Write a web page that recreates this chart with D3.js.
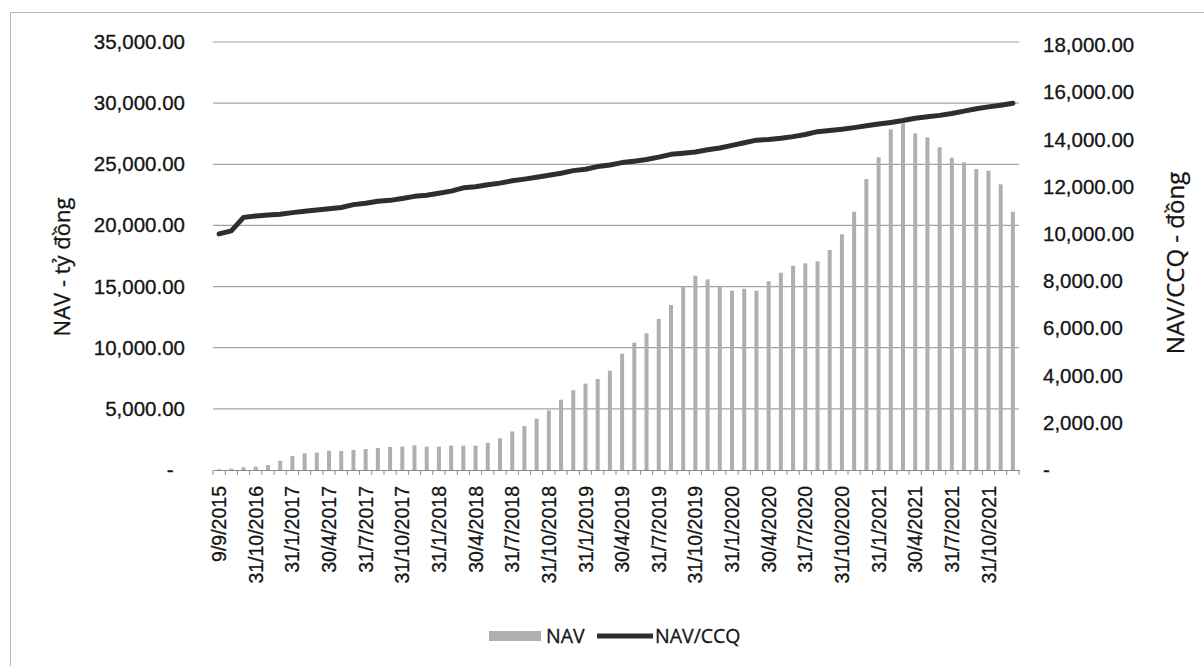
<!DOCTYPE html>
<html>
<head>
<meta charset="utf-8">
<script src="https://cdn.jsdelivr.net/npm/d3@7"></script>
<style>
  body { margin: 0; background: #fff; }
  svg { display: block; font-family: 'Open Sans', sans-serif; }
  svg text { fill: #141414; stroke: #141414; stroke-width: 0.3px; }
</style>
</head>
<body>
<svg id="chart"></svg>
<script>
// Month-end reporting dates (first point is fund launch)
const categories = [
  '9/9/2015', '31/8/2016', '30/9/2016',
  '31/10/2016', '30/11/2016', '31/12/2016',
  '31/1/2017', '28/2/2017', '31/3/2017', '30/4/2017', '31/5/2017', '30/6/2017',
  '31/7/2017', '31/8/2017', '30/9/2017', '31/10/2017', '30/11/2017', '31/12/2017',
  '31/1/2018', '28/2/2018', '31/3/2018', '30/4/2018', '31/5/2018', '30/6/2018',
  '31/7/2018', '31/8/2018', '30/9/2018', '31/10/2018', '30/11/2018', '31/12/2018',
  '31/1/2019', '28/2/2019', '31/3/2019', '30/4/2019', '31/5/2019', '30/6/2019',
  '31/7/2019', '31/8/2019', '30/9/2019', '31/10/2019', '30/11/2019', '31/12/2019',
  '31/1/2020', '29/2/2020', '31/3/2020', '30/4/2020', '31/5/2020', '30/6/2020',
  '31/7/2020', '31/8/2020', '30/9/2020', '31/10/2020', '30/11/2020', '31/12/2020',
  '31/1/2021', '28/2/2021', '31/3/2021', '30/4/2021', '31/5/2021', '30/6/2021',
  '31/7/2021', '31/8/2021', '30/9/2021', '31/10/2021', '30/11/2021', '31/12/2021'
];

// NAV - tỷ đồng (bars, left axis)
const navValues = [
  60, 110, 220,
  270, 410, 760,
  1140, 1360, 1420, 1580, 1550, 1640,
  1720, 1800, 1880, 1910, 2020, 1910,
  1910, 1990, 1990, 1990, 2230, 2590,
  3150, 3600, 4200, 4880, 5750, 6520,
  7060, 7440, 8120, 9510, 10410, 11180,
  12350, 13490, 14990, 15890, 15590, 15040,
  14660, 14820, 14660, 15430, 16130, 16700,
  16900, 17060, 17990, 19270, 21120, 23790,
  25570, 27860, 28350, 27530, 27200, 26390,
  25540, 25160, 24610, 24470, 23360, 21120
];

// NAV/CCQ - đồng (line, right axis)
const navPerUnit = [
  10000, 10130, 10700,
  10760, 10800, 10830,
  10900, 10960, 11010, 11060, 11120, 11240,
  11300, 11380, 11420, 11500, 11590, 11640,
  11720, 11810, 11950, 12000, 12080, 12150,
  12250, 12320, 12400, 12480, 12570, 12680,
  12740, 12850, 12920, 13020, 13080, 13150,
  13250, 13370, 13420, 13470, 13560, 13640,
  13750, 13860, 13970, 14000, 14050, 14120,
  14210, 14330, 14380, 14430, 14500, 14580,
  14650, 14720, 14800, 14900, 14960, 15020,
  15100, 15200, 15300, 15380, 15450, 15530
];

const leftTicks = [0, 5000, 10000, 15000, 20000, 25000, 30000, 35000];
const rightTicks = [0, 2000, 4000, 6000, 8000, 10000, 12000, 14000, 16000, 18000];
const seriesNames = ['NAV', 'NAV/CCQ'];
const axisTitles = ['NAV - tỷ đồng', 'NAV/CCQ - đồng'];

const width = 1204, height = 666;
const plot = {left: 213, right: 1019, top: 42, bottom: 470};

const svg = d3.select('#chart')
    .attr('width', width)
    .attr('height', height);

// Chart area border
svg.append('rect')
    .attr('x', 10.5).attr('y', 12.5)
    .attr('width', 1220).attr('height', 700)
    .attr('fill', 'none')
    .attr('stroke', '#b5b5b5');

const x = d3.scaleBand()
    .domain(categories)
    .range([plot.left, plot.right]);

const yLeft = d3.scaleLinear()
    .domain([0, 35000])
    .range([plot.bottom, plot.top]);

const yRight = d3.scaleLinear()
    .domain([0, 18000])
    .range([plot.bottom, 45]);

const fmt = v => v === 0 ? '-\u2007' : d3.format(',.2f')(v);

// Gridlines from the left axis
svg.append('g')
    .selectAll('line')
    .data(leftTicks.filter(d => d > 0))
    .join('line')
    .attr('x1', plot.left).attr('x2', plot.right)
    .attr('y1', d => yLeft(d)).attr('y2', d => yLeft(d))
    .attr('stroke', '#a3a3a3')
    .attr('stroke-width', 1.2);

// NAV bars
const barW = 4;
svg.append('g')
    .selectAll('rect')
    .data(categories)
    .join('rect')
    .attr('x', (d, i) => x(d) + x.bandwidth() / 2 - barW / 2)
    .attr('y', (d, i) => yLeft(navValues[i]))
    .attr('width', barW)
    .attr('height', (d, i) => plot.bottom - yLeft(navValues[i]))
    .attr('fill', '#afafaf');

// Left axis (labels only)
const leftAxis = svg.append('g')
    .attr('transform', `translate(${plot.left - 28},0)`)
    .call(d3.axisLeft(yLeft).tickValues(leftTicks).tickFormat(fmt).tickSize(0))
    .call(g => g.select('.domain').remove());
leftAxis.selectAll('text').attr('font-size', 20.5).attr('x', 0);

// Right axis (labels only)
const rightAxis = svg.append('g')
    .attr('transform', `translate(${plot.right + 24},0)`)
    .call(d3.axisRight(yRight).tickValues(rightTicks).tickFormat(v => v === 0 ? '-' : d3.format(',.2f')(v)).tickSize(0))
    .call(g => g.select('.domain').remove());
rightAxis.selectAll('text').attr('font-size', 20.5).attr('x', 0);

// Bottom axis: line, boundary ticks and every third date label
const xAxisG = svg.append('g')
    .attr('transform', `translate(0,${plot.bottom})`)
    .call(d3.axisBottom(x)
        .tickValues(categories.filter((d, i) => i % 3 === 0))
        .tickSize(0))
    .call(g => g.select('.domain').attr('stroke', '#8a8a8a').attr('stroke-width', 1.2));

xAxisG.selectAll('.tick text')
    .attr('font-size', 19.5)
    .attr('transform', 'rotate(-90)')
    .attr('text-anchor', 'end')
    .attr('x', -16)
    .attr('y', 0)
    .attr('dy', '0.36em');

xAxisG.append('g')
    .selectAll('line')
    .data(categories.concat(['end']))
    .join('line')
    .attr('x1', (d, i) => i < categories.length ? x(d) : plot.right)
    .attr('x2', (d, i) => i < categories.length ? x(d) : plot.right)
    .attr('y1', 0).attr('y2', 5)
    .attr('stroke', '#8a8a8a');

// NAV/CCQ line
const line = d3.line()
    .x((d, i) => x(categories[i]) + x.bandwidth() / 2)
    .y(d => yRight(d));

svg.append('path')
    .datum(navPerUnit)
    .attr('d', line)
    .attr('fill', 'none')
    .attr('stroke', '#2e2e2e')
    .attr('stroke-width', 5)
    .attr('stroke-linejoin', 'round')
    .attr('stroke-linecap', 'round');

// Axis titles
svg.append('text')
    .attr('transform', `translate(70,267) rotate(-90)`)
    .attr('text-anchor', 'middle')
    .attr('font-size', 22)
    .text(axisTitles[0]);

svg.append('text')
    .attr('transform', `translate(1184,263) rotate(-90)`)
    .attr('text-anchor', 'middle')
    .attr('font-size', 24)
    .text(axisTitles[1]);

// Legend
const legend = svg.append('g').attr('transform', 'translate(489,636)');
legend.append('rect')
    .attr('x', 0).attr('y', -5)
    .attr('width', 52).attr('height', 10)
    .attr('fill', '#afafaf');
legend.append('text')
    .attr('x', 57).attr('y', 0).attr('dy', '0.35em')
    .attr('font-size', 19.5)
    .text(seriesNames[0]);
legend.append('line')
    .attr('x1', 108).attr('x2', 164)
    .attr('y1', 0).attr('y2', 0)
    .attr('stroke', '#2e2e2e').attr('stroke-width', 5);
legend.append('text')
    .attr('x', 166).attr('y', 0).attr('dy', '0.35em')
    .attr('font-size', 19.5)
    .text(seriesNames[1]);
</script>
</body>
</html>
